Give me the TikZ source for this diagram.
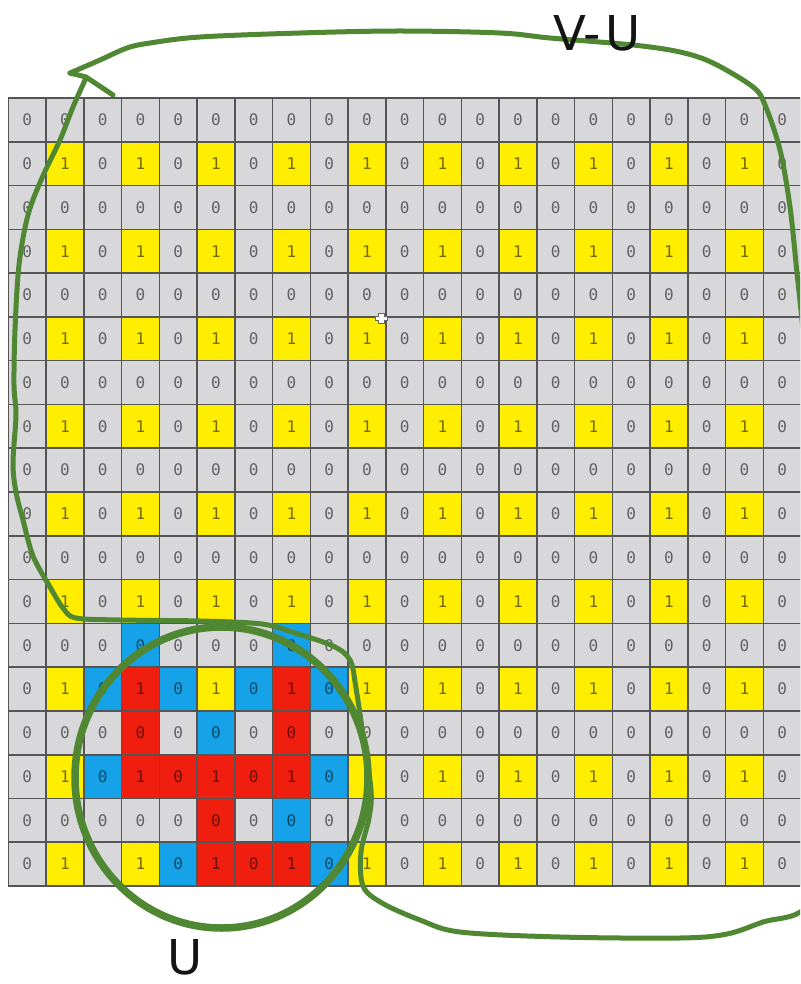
\documentclass[tikz,border=0pt]{standalone}
\usepackage{fontspec}
\setmainfont{DejaVu Sans}
\newfontfamily\digitfont{DejaVu Sans Mono}
\definecolor{cgray}{RGB}{216,216,219}
\definecolor{cyel}{RGB}{255,238,0}
\definecolor{cblue}{RGB}{22,162,232}
\definecolor{cred}{RGB}{240,30,15}
\definecolor{cline}{RGB}{85,85,85}
\definecolor{penc}{RGB}{80,135,50}
\newcommand\setcellcol[3]{\expandafter\gdef\csname cellcol-#1-#2\endcsname{#3}}
\setcellcol{12}{3}{cblue}\setcellcol{12}{7}{cblue}
\setcellcol{13}{2}{cblue}\setcellcol{13}{4}{cblue}\setcellcol{13}{6}{cblue}\setcellcol{13}{8}{cblue}
\setcellcol{14}{5}{cblue}
\setcellcol{15}{2}{cblue}\setcellcol{15}{8}{cblue}
\setcellcol{16}{7}{cblue}
\setcellcol{17}{4}{cblue}\setcellcol{17}{8}{cblue}
\setcellcol{13}{3}{cred}\setcellcol{13}{7}{cred}
\setcellcol{14}{3}{cred}\setcellcol{14}{7}{cred}
\setcellcol{15}{3}{cred}\setcellcol{15}{4}{cred}\setcellcol{15}{5}{cred}\setcellcol{15}{6}{cred}\setcellcol{15}{7}{cred}
\setcellcol{16}{5}{cred}
\setcellcol{17}{5}{cred}\setcellcol{17}{6}{cred}\setcellcol{17}{7}{cred}
\expandafter\def\csname celltxt-17-2\endcsname{}
\begin{document}
\begin{tikzpicture}[x=1pt,y=-1pt,
  cellbox/.style={draw=cline, line width=1.6pt, minimum width=37.75pt, minimum height=43.78pt,
    inner sep=0pt, font=\digitfont\fontsize{16}{16}\selectfont, text=black, text opacity=0.55},
  penline/.style={draw=penc, line width=5pt, line cap=round, line join=round},
  bigtext/.style={font=\fontsize{48}{48}\selectfont, text=black!92, inner sep=0pt}]
\useasboundingbox (0,0) rectangle (800,984);
\fill[white] (0,0) rectangle (800,984);
\begin{scope}
\clip (0,0) rectangle (800,984);
\foreach \row in {0,...,17}{
  \foreach \col in {0,...,20}{
    \pgfmathtruncatemacro\one{mod(\row,2)*mod(\col,2)}
    \ifnum\one=1 \def\fc{cyel}\else\def\fc{cgray}\fi
    \ifcsname cellcol-\row-\col\endcsname \edef\fc{\csname cellcol-\row-\col\endcsname}\fi
    \edef\tx{\one}
    \ifcsname celltxt-\row-\col\endcsname \def\tx{}\fi
    \node[cellbox, fill=\fc] (cell-\row-\col) at ({8.3+37.75*(\col+0.5)}, {98+43.78*(\row+0.5)}) {\tx};
  }
}
% mouse cursor
\draw[black!60, fill=white, line width=0.6pt] (378,313) -- (384,313) -- (384,316) -- (387,316) -- (387,320) -- (384,320) -- (384,323) -- (378,323) -- (378,320) -- (375,320) -- (375,316) -- (378,316) -- cycle;
% big loop V-U
\draw[penline] plot[smooth, tension=0.55] coordinates {
  (70,73) (100,60) (127,48) (150,43) (200,37) (300,33) (400,31) (500,33) (550,38)
  (633,45) (680,52) (713,63) (753,87) (765,105) (780,150) (790,207) (797,273) (803,330)
  (815,450) (825,650) (825,850) (805,908)
  (763,922) (727,934) (680,938) (560,937) (460,932) (420,920) (382,903) (363,886)
  (361,852) (369,818) (371,790) (363,735) (356,688) (350,660) (333,646) (295,633)
  (262,624) (200,621) (120,620) (76,618) (63,608) (50,587) (33,556) (23,520) (16,492)
  (13,463) (16,415) (14,385) (15,330) (19,265) (28,215) (42,178) (60,140) (73,107) (86,78)};
\draw[penline] (70,73) -- (86,77) -- (113,95);
% circle U
\draw[penc, line width=7.5pt] (221.5,777.5) ellipse [x radius=146.5pt, y radius=150.5pt];
\end{scope}
\node[bigtext] (lblVU) at (597,33) {V-\kern4pt U};
\node[bigtext] (lblU) at (185,957) {U};
\end{tikzpicture}
\end{document}
